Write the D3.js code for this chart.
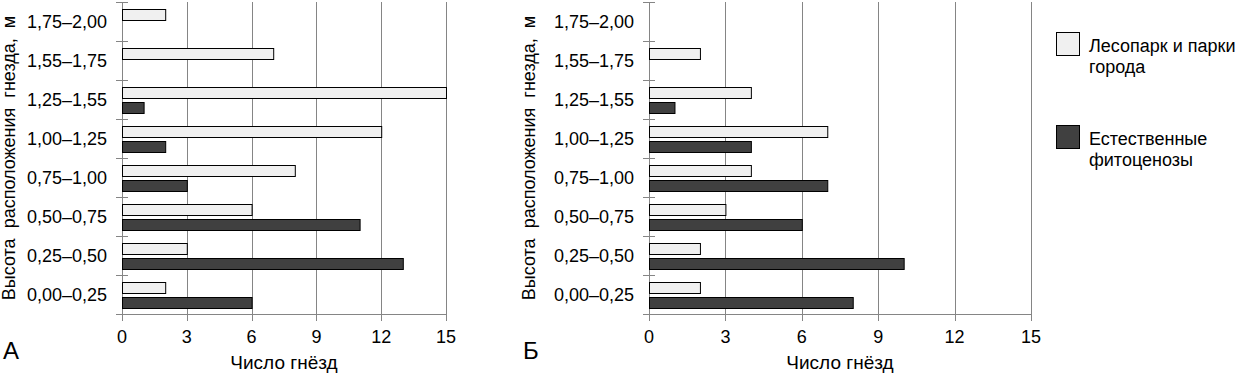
<!DOCTYPE html>
<html>
<head>
<meta charset="utf-8">
<script src="https://cdn.jsdelivr.net/npm/d3@7"></script>
<style>
body { margin: 0; background: #fff; }
text { font-family: "Liberation Sans", Arial, sans-serif; fill: #000; }
</style>
</head>
<body>
<div id="chart"></div>
<script>
var WIDTH = 1237;
var HEIGHT = 373;

// height classes, top to bottom
const heights = ["1,75–2,00", "1,55–1,75", "1,25–1,55", "1,00–1,25", "0,75–1,00", "0,50–0,75", "0,25–0,50", "0,00–0,25"]
const series = ["Лесопарк и парки города", "Естественные фитоценозы"]
const xTicks = [0, 3, 6, 9, 12, 15]

// panel A
const parkA = [2, 7, 15, 12, 8, 6, 3, 2]
const naturalA = [0, 0, 1, 2, 3, 11, 13, 6]
// panel Б
const parkB = [0, 2, 4, 7, 4, 3, 2, 2]
const naturalB = [0, 0, 1, 4, 7, 6, 10, 8]

const fills = ["#f0f0f0", "#404040"]
const GRID = "#858585"

const svg = d3.select("#chart").append("svg").attr("width", WIDTH).attr("height", HEIGHT)

function drawPanel(LEFT, RIGHT, letter, letterX, titleX, park, natural) {
    var TOP = 2;
    var BOTTOM = 314;

    const x = d3.scaleLinear().domain([0, 15]).range([LEFT, RIGHT])
    const y = d3.scaleBand().domain(heights).range([TOP, BOTTOM])
    const y1 = d3.scaleBand().domain(series).range([7, 33]).paddingInner(0.3)

    const g = svg.append("g")

    // vertical grid lines (go a little below the baseline like ticks)
    g.selectAll(".grid").data(xTicks).enter().append("line")
        .attr("x1", d => Math.round(x(d)) + .5).attr("x2", d => Math.round(x(d)) + .5)
        .attr("y1", TOP).attr("y2", BOTTOM + 7)
        .attr("stroke", GRID).attr("stroke-width", 1)

    // baseline
    g.append("line").attr("x1", LEFT - 6).attr("x2", RIGHT).attr("y1", BOTTOM + .5).attr("y2", BOTTOM + .5)
        .attr("stroke", GRID)

    // category boundary ticks on the y axis
    const bounds = heights.map(h => y(h)).concat([BOTTOM])
    g.selectAll(".ytick").data(bounds).enter().append("line")
        .attr("x1", Math.round(x(0)) - 6).attr("x2", Math.round(x(0)) + 6)
        .attr("y1", d => Math.round(d) + .5).attr("y2", d => Math.round(d) + .5)
        .attr("stroke", GRID)

    // x tick labels
    g.selectAll(".xlab").data(xTicks).enter().append("text")
        .attr("x", d => x(d)).attr("y", 343).attr("text-anchor", "middle").attr("font-size", "18px")
        .text(d => d)

    // y tick labels
    g.selectAll(".ylab").data(heights).enter().append("text")
        .attr("x", x(0) - 15).attr("y", d => y(d) + y.bandwidth() / 2).attr("dy", ".36em")
        .attr("text-anchor", "end").attr("font-size", "18px")
        .text(d => d)

    // bars
    const rows = heights.map((h, i) => ({ h: h, vals: [park[i], natural[i]] }))
    rows.forEach(r => {
        r.vals.forEach((v, j) => {
            if (v <= 0) return
            g.append("rect")
                .attr("x", Math.round(x(0)) + .5)
                .attr("y", Math.round(y(r.h) + y1(series[j])) + .5)
                .attr("width", x(v) - x(0))
                .attr("height", Math.round(y1.bandwidth()))
                .attr("fill", fills[j]).attr("stroke", "#000").attr("stroke-width", 1)
        })
    })

    // axis titles
    g.append("text").attr("x", (LEFT + RIGHT) / 2).attr("y", 369).attr("text-anchor", "middle")
        .attr("font-size", "19px").text("Число гнёзд")
    g.append("text").attr("transform", "translate(" + titleX + "," + ((TOP + BOTTOM) / 2) + ") rotate(-90)")
        .attr("text-anchor", "middle").attr("font-size", "18px")
        .style("white-space", "pre")
        .text("Высота  расположения  гнезда,  м")

    // panel letter
    g.append("text").attr("x", letterX).attr("y", 359).attr("font-size", "24px").text(letter)
}

drawPanel(122, 446, "А", 3, 15, parkA, naturalA)
drawPanel(649, 1031, "Б", 523, 535, parkB, naturalB)

// legend
const legend = svg.append("g").attr("transform", "translate(1056,32)")
const legendLines = [["Лесопарк и парки", "города"], ["Естественные", "фитоценозы"]]
series.forEach((s, i) => {
    const row = legend.append("g").attr("transform", "translate(0," + (i * 93) + ")")
    row.append("rect").attr("x", .5).attr("y", .5).attr("width", 23).attr("height", 23)
        .attr("fill", fills[i]).attr("stroke", "#000")
    legendLines[i].forEach((t, k) => {
        row.append("text").attr("x", 33).attr("y", 20 + k * 21).attr("font-size", "18px").text(t)
    })
})
</script>
</body>
</html>
